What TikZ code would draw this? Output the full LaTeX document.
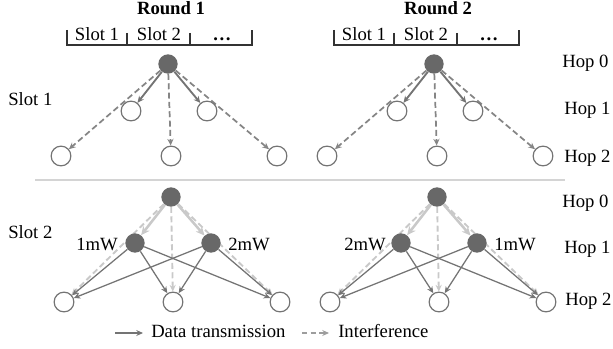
\documentclass[tikz,border=0pt]{standalone}
\usepackage{fontspec}
\setmainfont{Liberation Serif}
\usetikzlibrary{arrows.meta}
\pgfdeclarelayer{links}
\pgfsetlayers{links,main}
\definecolor{hubgray}{HTML}{686868}
\definecolor{edgegray}{HTML}{747474}
\definecolor{dashgray}{HTML}{858585}
\definecolor{lightgray}{HTML}{C9C9C9}
\definecolor{rulegray}{HTML}{D4D4D4}
\tikzset{
  hub/.style={circle, fill=hubgray, draw=none, minimum size=14.5pt, inner sep=0pt},
  leaf/.style={circle, draw=edgegray, line width=0.9pt, fill=white, minimum size=14.8pt, inner sep=0pt},
  lbl/.style={font=\fontsize{14}{16}\selectfont, inner sep=0pt, anchor=base},
  hoplbl/.style={lbl, anchor=base west},
  tip/.style={-{Stealth[length=5pt,width=4.6pt]}},
  datalink/.style={tip, draw=edgegray, line width=1.4pt},
  interlink/.style={tip, draw=dashgray, line width=1.3pt, dash pattern=on 4.5pt off 2.5pt},
  thinlink/.style={-{Stealth[length=5pt,width=4.4pt]}, draw=edgegray, line width=0.95pt},
  paledata/.style={-{Stealth[length=6.5pt,width=6pt]}, draw=lightgray, line width=1.9pt},
  paleinter/.style={-{Stealth[length=5pt,width=4.6pt]}, draw=lightgray, line width=1.4pt, dash pattern=on 4.5pt off 2.5pt},
  bracket/.style={draw=black!80, line width=0.9pt}
}
\begin{document}
\begin{tikzpicture}[x=0.75pt,y=-0.75pt]
\useasboundingbox (0,0) rectangle (613,349);

% ---- round headers with slot brackets ----
\foreach \r/\dx in {1/0, 2/267}{
  \begin{scope}[xshift=\dx*0.75pt]
    \node[lbl, font=\fontsize{14}{16}\selectfont\bfseries] (round\r) at (171,15) {Round \r};
    \coordinate (bl\r) at (67,45);
    \coordinate (br\r) at (252,45);
    \draw[bracket] (67,30) -- (bl\r) -- (br\r) -- (252,30);
    \draw[bracket] (127,33) -- (127,45);
    \draw[bracket] (190,33) -- (190,45);
    \node[lbl] (sa\r) at (97,41) {Slot 1};
    \node[lbl] (sb\r) at (159,41) {Slot 2};
    \node[lbl] (sc\r) at (222,41) {\textbf{…}};
  \end{scope}
}

% ---- slot 1: single transmitter ----
\foreach \r/\dx in {1/0, 2/266}{
  \begin{scope}[xshift=\dx*0.75pt]
    \node[hub]  (t\r) at (168,64) {};
    \node[leaf] (a\r) at (131,111) {};
    \node[leaf] (b\r) at (207,111) {};
    \node[leaf] (c\r) at (61,156) {};
    \node[leaf] (d\r) at (171,156) {};
    \node[leaf] (e\r) at (277,156) {};
    \begin{pgfonlayer}{links}
      \draw[datalink] (t\r) -- (a\r);
      \draw[datalink] (t\r) -- (b\r);
      \draw[interlink] (t\r) -- (c\r);
      \draw[interlink] (t\r) -- (d\r);
      \draw[interlink] (t\r) -- (e\r);
    \end{pgfonlayer}
  \end{scope}
}

\node[lbl, anchor=base west] (slotone) at (8,106) {Slot 1};

% ---- separator ----
\coordinate (sepl) at (35,180);
\coordinate (sepr) at (565,180);
\draw[rulegray, line width=1.5pt] (sepl) -- (sepr);

% ---- slot 2: concurrent relays ----
\foreach \r/\dx in {1/0, 2/266}{
  \begin{scope}[xshift=\dx*0.75pt]
    \node[hub]  (T\r) at (171,197) {};
    \node[leaf] (C\r) at (64,302) {};
    \node[leaf] (D\r) at (173,302) {};
    \node[leaf] (E\r) at (280,302) {};
    \node[hub]  (A\r) at (135,243) {};
    \node[hub]  (B\r) at (211,243) {};
    \begin{pgfonlayer}{links}
      \draw[paleinter] (T\r) -- (C\r);
      \draw[paleinter] (T\r) -- (D\r);
      \draw[paleinter] (T\r) -- (E\r);
      \draw[paledata] (T\r) -- (A\r);
      \draw[paledata] (T\r) -- (B\r);
      \foreach \s in {A,B}{
        \foreach \d in {C,D,E}{
          \draw[thinlink] (\s\r) -- (\d\r);
        }
      }
    \end{pgfonlayer}
  \end{scope}
}

\node[lbl, anchor=base west] (slottwo) at (8,238) {Slot 2};

% ---- transmit power labels ----
\node[lbl] (p1a) at (97,250) {1mW};
\node[lbl] (p1b) at (249,250) {2mW};
\node[lbl] (p2a) at (365,250) {2mW};
\node[lbl] (p2b) at (515,250) {1mW};

% ---- hop labels ----
\node[hoplbl] (h0a) at (562,68) {Hop 0};
\node[hoplbl] (h1a) at (564,115) {Hop 1};
\node[hoplbl] (h2a) at (564,162) {Hop 2};
\node[hoplbl] (h0b) at (562,207) {Hop 0};
\node[hoplbl] (h1b) at (564,253) {Hop 1};
\node[hoplbl] (h2b) at (565,305) {Hop 2};

% ---- legend ----
\coordinate (lga) at (115,333);
\coordinate (lgb) at (143,333);
\draw[thinlink] (lga) -- (lgb);
\node[lbl, anchor=base west] (lgdata) at (151,337) {Data transmission};
\coordinate (lgc) at (302,333);
\coordinate (lgd) at (329,333);
\draw[-{Stealth[length=5pt,width=4.4pt]}, draw=dashgray!80, line width=1pt, dash pattern=on 4pt off 2.5pt] (lgc) -- (lgd);
\node[lbl, anchor=base west] (lginter) at (338,337) {Interference};
\end{tikzpicture}
\end{document}
